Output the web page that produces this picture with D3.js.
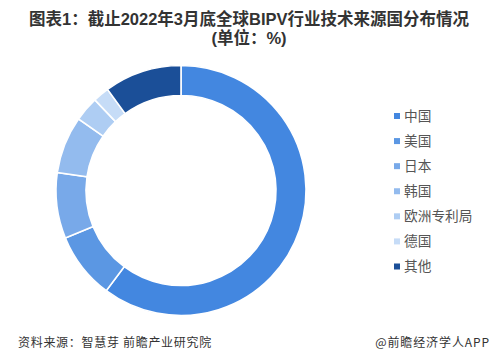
<!DOCTYPE html>
<html><head><meta charset="utf-8">
<script src="https://cdn.jsdelivr.net/npm/d3@7"></script>
<style>body{margin:0;background:#fff;}svg{display:block;font-family:"Noto Sans CJK SC","Noto Sans",sans-serif;}</style>
</head><body>
<svg id="c" width="504" height="359"></svg>
<script>
const categories = ["中国","美国","日本","韩国","欧洲专利局","德国","其他"];
const values = [60.2, 8.6, 8.5, 7.4, 3.2, 2.1, 10.0];
const colors = ["#4387e0","#5b97e3","#78a9e9","#93bbee","#aecdf3","#c6dcf7","#1b4f98"];
const titleLines = ["图表1：截止2022年3月底全球BIPV行业技术来源国分布情况","(单位：%)"];
const sourceText = "资料来源：智慧芽 前瞻产业研究院";
const brandText = "@前瞻经济学人APP";

const svg = d3.select("#c");
svg.append("rect").attr("width",504).attr("height",359).attr("fill","#fff");

svg.selectAll("text.title").data(titleLines).enter().append("text")
  .attr("class","title").attr("x",249).attr("y",(d,i)=>25+i*18.6)
  .attr("text-anchor","middle").attr("font-size",16.5).attr("font-weight","bold")
  .attr("font-family","'Liberation Sans','Noto Sans CJK SC',sans-serif")
  .attr("fill","#333").text(d=>d);

const cx=181, cy=190.5, R=125, r=95;
const pie = d3.pie().sort(null).value(d=>d);
const arc = d3.arc().innerRadius(r).outerRadius(R);
const g = svg.append("g").attr("transform",`translate(${cx},${cy})`);
g.selectAll("path").data(pie(values)).enter().append("path")
  .attr("d",arc).attr("fill",(d,i)=>colors[i])
  .attr("stroke","#fff").attr("stroke-width",1.6);

const color = d3.scaleOrdinal().domain(categories).range(colors);
const ly = d3.scalePoint().domain(categories).range([116,266.5]);
const leg = svg.append("g");
const items = leg.selectAll("g").data(categories).enter().append("g")
  .attr("transform",d=>`translate(394,${ly(d)})`);
items.append("rect").attr("x",0).attr("y",-3).attr("width",6).attr("height",6).attr("fill",d=>color(d));
items.append("text").attr("x",10).attr("y",0).attr("dy","0.36em")
  .attr("font-size",13.7).attr("fill","#555").text(d=>d);

svg.append("text").attr("x",18).attr("y",347).attr("font-size",12).attr("letter-spacing",0.7).attr("fill","#333").text(sourceText);
svg.append("text").attr("x",490).attr("y",347).attr("text-anchor","end").attr("font-size",12).attr("letter-spacing",0.9).attr("fill","#333").text(brandText);
</script>
</body></html>
